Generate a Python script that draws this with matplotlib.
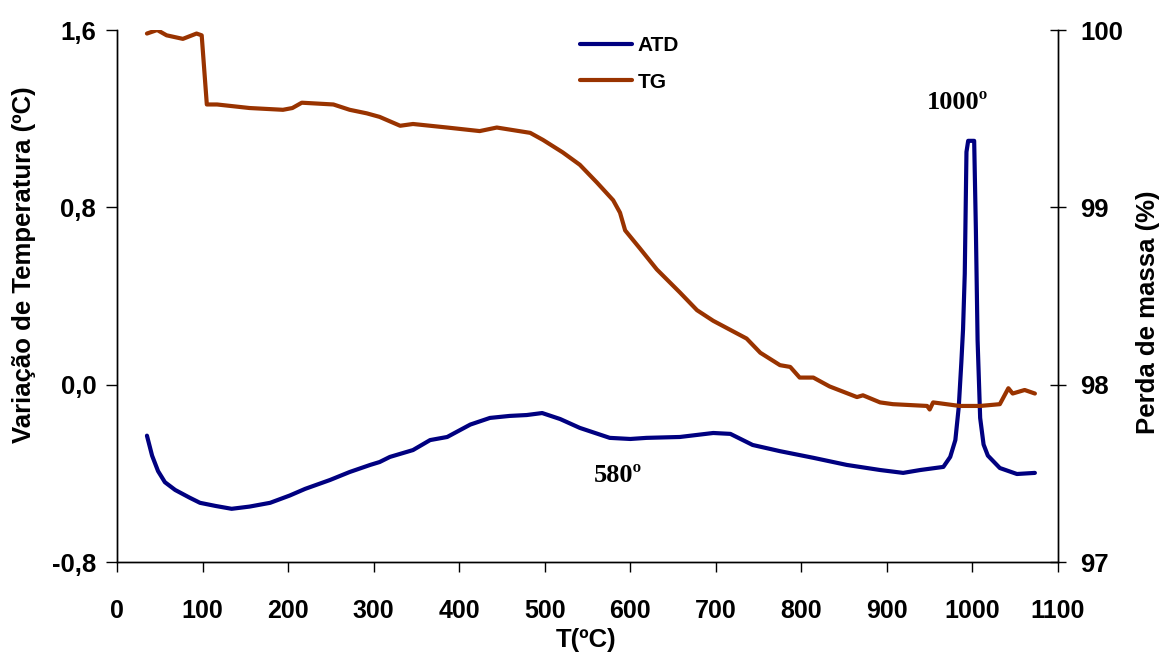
import matplotlib
matplotlib.use("Agg")
import matplotlib.pyplot as plt

# ATD curve: temperature (ºC) vs temperature difference (ºC)
atd_t = [35, 41, 48, 56, 68, 85, 97, 115, 134, 155, 179, 202, 220, 249, 272, 296,
         307, 319, 346, 366, 386, 413, 436, 459, 479, 497, 518, 541, 576, 600, 619,
         658, 697, 717, 743, 775, 814, 853, 892, 919, 939, 966, 974, 980, 984, 987,
         989, 991, 993, 995, 1002, 1004, 1006, 1009, 1013, 1018, 1032, 1052, 1073]
atd_v = [-0.23, -0.32, -0.39, -0.44, -0.475, -0.51, -0.533, -0.547, -0.56, -0.55,
         -0.533, -0.50, -0.47, -0.43, -0.394, -0.362, -0.349, -0.326, -0.295, -0.25,
         -0.236, -0.18, -0.15, -0.141, -0.137, -0.128, -0.155, -0.195, -0.24, -0.245,
         -0.24, -0.236, -0.218, -0.222, -0.272, -0.30, -0.33, -0.362, -0.385, -0.398,
         -0.385, -0.371, -0.326, -0.25, -0.10, 0.10, 0.25, 0.50, 1.05, 1.10, 1.10,
         0.70, 0.20, -0.15, -0.27, -0.32, -0.376, -0.403, -0.398]

# TG curve: temperature (ºC) vs remaining mass (%)
tg_t = [35, 47, 58, 77, 93, 99, 105, 117, 155, 194, 205, 216, 253, 272, 292, 307,
        331, 346, 386, 424, 444, 483, 498, 521, 541, 561, 580, 588, 594, 611, 631,
        658, 678, 697, 736, 752, 775, 787, 798, 814, 833, 865, 872, 892, 907, 947,
        950, 954, 985, 1009, 1032, 1042, 1047, 1061, 1073]
tg_m = [99.98, 100.0, 99.97, 99.95, 99.98, 99.97, 99.58, 99.58, 99.56, 99.55, 99.56,
        99.59, 99.58, 99.55, 99.53, 99.51, 99.46, 99.47, 99.45, 99.43, 99.45, 99.42,
        99.38, 99.31, 99.24, 99.14, 99.04, 98.97, 98.87, 98.77, 98.65, 98.52, 98.42,
        98.36, 98.26, 98.18, 98.11, 98.10, 98.04, 98.04, 97.99, 97.93, 97.94, 97.90,
        97.89, 97.88, 97.86, 97.90, 97.88, 97.88, 97.89, 97.98, 97.95, 97.97, 97.95]

x_ticks = [0, 100, 200, 300, 400, 500, 600, 700, 800, 900, 1000, 1100]
left_ticks = [-0.8, 0.0, 0.8, 1.6]
left_labels = ["-0,8", "0,0", "0,8", "1,6"]
right_ticks = [97, 98, 99, 100]

plt.rcParams["font.family"] = ["Liberation Sans", "DejaVu Sans"]
plt.rcParams["font.weight"] = "bold"

fig = plt.figure(figsize=(11.63, 6.55), dpi=100)
ax = fig.add_axes([117 / 1163, 1 - 562 / 655, 941 / 1163, 532 / 655])
ax2 = ax.twinx()

l1, = ax.plot(atd_t, atd_v, color="#000080", lw=3, solid_capstyle="round", label="ATD")
l2, = ax2.plot(tg_t, tg_m, color="#993300", lw=3, solid_capstyle="round", label="TG")

ax.set_xlim(0, 1100)
ax.set_ylim(-0.8, 1.6)
ax2.set_ylim(97, 100)

ax.set_xticks(x_ticks)
ax.set_yticks(left_ticks)
ax.set_yticklabels(left_labels)
ax2.set_yticks(right_ticks)

for a in (ax, ax2):
    a.spines["top"].set_visible(False)
    for s in a.spines.values():
        s.set_linewidth(1)

ax.tick_params(axis="x", direction="out", length=7, width=1, pad=20, labelsize=18)
ax.tick_params(axis="y", direction="out", length=8, width=1, pad=7, labelsize=18.5)
ax2.tick_params(axis="y", direction="inout", length=12, width=1, pad=10, labelsize=18.5)

# axis titles placed in figure coordinates
fig.text(586 / 1163, 1 - 640 / 655, "T(ºC)", fontsize=18.5, fontweight="bold",
         ha="center", va="center")
fig.text(24 / 1163, 1 - 265 / 655, "Variação de Temperatura (ºC)", fontsize=18.5,
         fontweight="bold", rotation=90, ha="center", va="center")
fig.text(1148 / 1163, 1 - 312 / 655, "Perda de massa (%)", fontsize=18.5,
         fontweight="bold", rotation=90, ha="center", va="center")

serif = ["Liberation Serif", "DejaVu Serif"]
ax.text(585, -0.41, "580º", family=serif, fontsize=19, fontweight="bold",
        ha="center", va="center")
ax.text(983, 1.275, "1000º", family=serif, fontsize=19, fontweight="bold",
        ha="center", va="center")

ax.legend(handles=[l1, l2], loc="upper left", frameon=False,
          bbox_to_anchor=(580 / 1163, 1 - 36 / 655), bbox_transform=fig.transFigure,
          borderaxespad=0, borderpad=0, handlelength=2.5, handletextpad=0.25,
          labelspacing=0.85, prop={"size": 15, "weight": "bold"})

fig.savefig("out.png", dpi=100)
